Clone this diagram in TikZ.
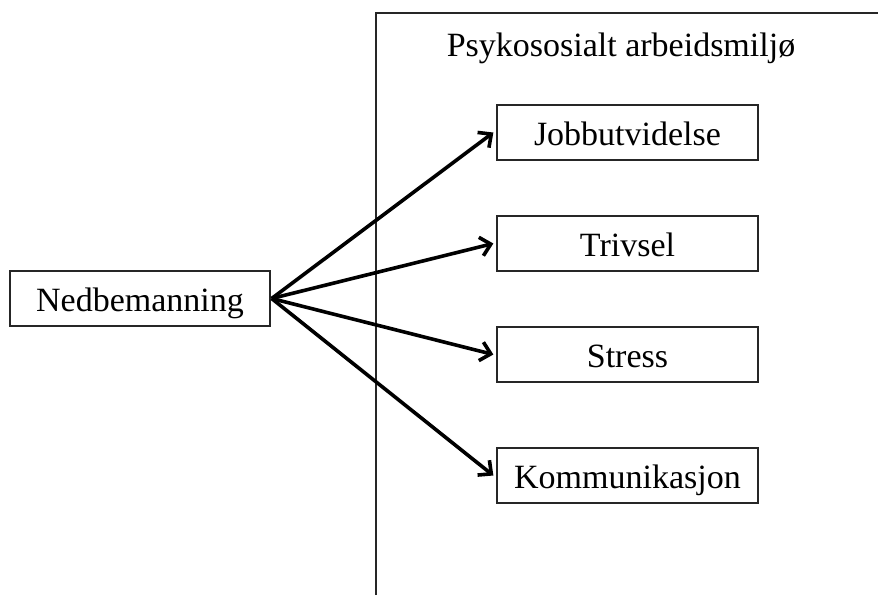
\documentclass[tikz,border=0pt]{standalone}
\usepackage{fontspec}
\setmainfont{Liberation Serif}
\usetikzlibrary{arrows.meta}
\begin{document}
\begin{tikzpicture}[x=1pt,y=-1pt,
  box/.style={draw=black!85,line width=1.3pt,fill=white,inner sep=0pt,
    minimum width=261pt,minimum height=55pt,text height=28pt,text depth=2pt,
    font=\fontsize{34}{40}\selectfont},
  link/.style={line width=3.6pt,-{Straight Barb[length=10pt,width=19pt,line width=3.6pt]}},
  frame/.style={draw=black!85,line width=1.6pt}]
\useasboundingbox (0,0) rectangle (878,595);
\coordinate (fb) at (376,595);
\coordinate (ftl) at (376,13);
\coordinate (fr) at (878,13);
\draw[frame] (fb) -- (ftl) -- (fr);
\node[font=\fontsize{34}{40}\selectfont,anchor=base] (title) at (621,56) {Psykososialt arbeidsmiljø};
\node[box,minimum width=260pt] (nb) at (140,298.5) {Nedbemanning};
\node[box] (jb) at (627.5,132.5) {Jobbutvidelse};
\node[box] (tr) at (627.5,243.5) {Trivsel};
\node[box] (st) at (627.5,354.5) {Stress};
\node[box] (ko) at (627.5,475.5) {Kommunikasjon};
\foreach \t in {jb,tr,st,ko}
  \draw[link] ([xshift=1pt]nb.east) -- ([xshift=-3pt]\t.west);
\end{tikzpicture}
\end{document}
